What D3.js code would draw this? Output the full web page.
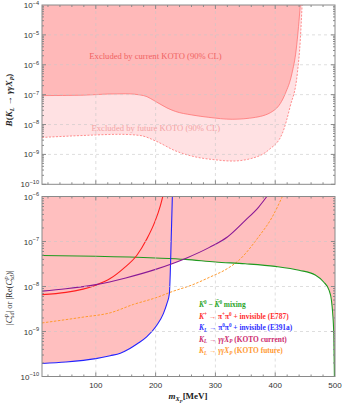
<!DOCTYPE html>
<html>
  <head>
    <meta charset="UTF-8">
    <title>KOTO bounds</title>
    <style>
    body { margin: 0; background: #fff; }
    svg { display: block; }
    .tick text { font: 8px "Liberation Sans", sans-serif; fill: #333; }
    .frame { fill: none; stroke: #8a8a8a; stroke-width: 1px; }
    .grid { stroke: #c8c8c8; stroke-dasharray: 3,3; stroke-width: 0.6px; }
    </style>
  </head>
  <body>
    <svg width="349" height="403"></svg>
    <script src="https://d3js.org/d3.v7.min.js"></script>
    <script>
// ---- data ----
// top panel: branching ratio limits, B(K_L -> gamma gamma X_P)
var kotoNowMass = [10, 79, 120, 150, 180, 202, 219, 233, 260, 289, 328, 367, 400, 417, 428, 435, 439, 442];
var kotoNowBR   = [9.3e-8, 9.6e-8, 1.05e-7, 1.07e-7, 9.3e-8, 5.6e-8, 3.6e-8, 2.75e-8, 2.1e-8, 1.74e-8, 1.5e-8, 1.74e-8, 3.2e-8, 1.1e-7, 5.1e-7, 3.1e-6, 1.9e-5, 1e-4];
var kotoFutMass = [10, 79, 141, 174, 202, 233, 266, 300, 328, 361, 389, 412, 425, 437, 442, 445];
var kotoFutBR   = [3.7e-9, 4.3e-9, 4.7e-9, 4.3e-9, 2.7e-9, 1.32e-9, 8.3e-10, 6.6e-10, 6.0e-10, 7.4e-10, 1.41e-9, 5.1e-9, 4.0e-8, 5.1e-7, 6.8e-6, 1e-4];

// bottom panel: coupling limits
var mixMass = [10, 100, 200, 250, 300, 350, 400, 440, 467, 481, 490, 494, 496, 498, 499, 500];
var mixC    = [4.9e-8, 4.7e-8, 4.3e-8, 4.0e-8, 3.5e-8, 3.2e-8, 2.8e-8, 2.3e-8, 1.8e-8, 1.26e-8, 8.3e-9, 5.0e-9, 2.7e-9, 8.3e-10, 1.0e-10, 1e-11];
var e787Mass = [10, 50, 100, 124, 146, 169, 185, 199, 208, 212];
var e787C    = [6.6e-9, 7.4e-9, 1.07e-8, 1.5e-8, 2.5e-8, 5.0e-8, 1.12e-7, 2.8e-7, 6.3e-7, 1e-6];
var e391Mass = [10, 50, 100, 124, 141, 157, 170, 185, 202, 213, 219, 223, 224.5, 226, 228];
var e391C    = [1.95e-10, 2.1e-10, 2.5e-10, 2.9e-10, 3.3e-10, 4.2e-10, 5.4e-10, 7.6e-10, 1.38e-9, 2.5e-9, 4.2e-9, 6.9e-9, 1.95e-8, 1.05e-7, 1e-6];
var kotoCurMass = [10, 50, 100, 150, 200, 250, 290, 320, 350, 372, 386];
var kotoCurC    = [7.9e-9, 8.9e-9, 1.1e-8, 1.55e-8, 2.4e-8, 4.2e-8, 7.4e-8, 1.26e-7, 2.95e-7, 5.75e-7, 1e-6];
var kotoFutCMass = [10, 80, 124, 163, 200, 230, 260, 290, 320, 339, 372, 395, 412];
var kotoFutC     = [1.55e-9, 2.1e-9, 2.6e-9, 4.0e-9, 5.6e-9, 7.9e-9, 1.07e-8, 1.6e-8, 2.5e-8, 3.8e-8, 1.26e-7, 3.5e-7, 1e-6];

var massTicks = [100, 200, 300, 400, 500];
var topDecades = [1e-10, 1e-9, 1e-8, 1e-7, 1e-6, 1e-5, 1e-4];
var botDecades = [1e-10, 1e-9, 1e-8, 1e-7, 1e-6];

var svg = d3.select("svg");
var left = 42, right = 335;
var x = d3.scaleLinear().domain([10, 500]).range([left, right]);
var yTop = d3.scaleLog().domain([1e-10, 1e-4]).range([184.3, 5]);
var yBot = d3.scaleLog().domain([1e-10, 1e-6]).range([376.5, 196.5]);

function zip(ms, vs) { return ms.map((m, i) => ({m: m, v: vs[i]})); }

// rich text: parts = [text, flags] with flags among i, b, sup, sub, subsub
function rich(g, px, py, parts, fs, attrs) {
  var t = g.append("text").attr("x", px).attr("y", py).attr("font-size", fs);
  Object.keys(attrs || {}).forEach(k => t.attr(k, attrs[k]));
  var shift = 0;
  parts.forEach(p => {
    var s = p[0], f = p[1] || "", dx = p[2] || 0;
    var target = 0, size = fs;
    if (f.includes("subsub")) { target = 0.45 * fs; size = fs * 0.55; }
    else if (f.includes("sup")) { target = -0.38 * fs; size = fs * 0.7; }
    else if (f.includes("sub")) { target = 0.25 * fs; size = fs * 0.7; }
    var ts = t.append("tspan").attr("dy", target - shift).attr("font-size", size).text(s);
    if (dx) ts.attr("dx", dx);
    if (f.includes("i")) ts.attr("font-style", "italic");
    shift = target;
  });
  return t;
}

function panel(y, y0, y1, decades, showX, id) {
  var g = svg.append("g");
  svg.append("clipPath").attr("id", id).append("rect")
      .attr("x", left).attr("y", y1).attr("width", right - left).attr("height", y0 - y1);
  var plot = g.append("g").attr("clip-path", "url(#" + id + ")");
  var deco = g.append("g");

  // grid
  deco.selectAll(".gx").data(massTicks.slice(0, -1)).enter().append("line")
      .attr("class", "grid").attr("x1", d => x(d)).attr("x2", d => x(d)).attr("y1", y1).attr("y2", y0);
  deco.selectAll(".gy").data(decades.slice(1, -1)).enter().append("line")
      .attr("class", "grid").attr("x1", left).attr("x2", right).attr("y1", d => y(d)).attr("y2", d => y(d));

  // frame + inward ticks
  deco.append("rect").attr("class", "frame").attr("x", left).attr("y", y1)
      .attr("width", right - left).attr("height", y0 - y1);
  var minorX = d3.range(20, 500, 20);
  minorX.forEach(m => {
    var len = m % 100 === 0 ? 4 : 2;
    deco.append("line").attr("class", "frame").attr("x1", x(m)).attr("x2", x(m)).attr("y1", y0).attr("y2", y0 - len);
    deco.append("line").attr("class", "frame").attr("x1", x(m)).attr("x2", x(m)).attr("y1", y1).attr("y2", y1 + len);
  });
  decades.slice(0, -1).forEach(d => {
    for (var k = 1; k < 10; k++) {
      var v = d * k, len = k === 1 ? 4 : 2;
      deco.append("line").attr("class", "frame").attr("x1", left).attr("x2", left + len).attr("y1", y(v)).attr("y2", y(v));
      deco.append("line").attr("class", "frame").attr("x1", right).attr("x2", right - len).attr("y1", y(v)).attr("y2", y(v));
    }
  });

  // tick labels
  decades.forEach(d => {
    var e = Math.round(Math.log10(d));
    var t = rich(deco, left - 3, y(d) + 3, [["10"], ["\u2212" + (-e), "sup"]], 8,
      {"text-anchor": "end", "font-family": "Liberation Sans, sans-serif", "fill": "#333"});
  });
  if (showX) {
    massTicks.forEach(m => {
      deco.append("text").attr("x", x(m)).attr("y", y0 + 11).attr("text-anchor", "middle")
          .attr("font-family", "Liberation Sans, sans-serif").attr("font-size", 8).attr("fill", "#333").text(m);
    });
  }
  return plot;
}

// ---------------- top panel ----------------
var topPlot = panel(yTop, 184.3, 5, topDecades, false, "clipTop");
var curve = d3.curveMonotoneX;
var areaTop = d3.area().curve(curve).x(d => x(d.m)).y0(0).y1(d => yTop(d.v));
var lineTop = d3.line().curve(curve).x(d => x(d.m)).y(d => yTop(d.v));

topPlot.insert("path", ":first-child").attr("d", areaTop(zip(kotoFutMass, kotoFutBR))).attr("fill", "#ffe1e3");
topPlot.insert("path", ":nth-child(2)").attr("d", areaTop(zip(kotoNowMass, kotoNowBR))).attr("fill", "#ffb9b9");
topPlot.append("path").attr("d", lineTop(zip(kotoFutMass, kotoFutBR))).attr("fill", "none")
    .attr("stroke", "#ff7373").attr("stroke-width", 0.8).attr("stroke-dasharray", "2,1.5");
topPlot.append("path").attr("d", lineTop(zip(kotoNowMass, kotoNowBR))).attr("fill", "none")
    .attr("stroke", "#ff7373").attr("stroke-width", 0.8);

svg.append("text").attr("x", 155.5).attr("y", 59).attr("text-anchor", "middle")
    .attr("font-family", "Liberation Serif, serif").attr("font-size", 8.6).attr("fill", "#f06262")
    .text("Excluded by current KOTO (90% CL)");
svg.append("text").attr("x", 155.8).attr("y", 130.5).attr("text-anchor", "middle")
    .attr("font-family", "Liberation Serif, serif").attr("font-size", 8.6).attr("fill", "#f3a3a3")
    .text("Excluded by future KOTO (90% CL)");

// ---------------- bottom panel ----------------
var botPlot = panel(yBot, 376.5, 196.5, botDecades, true, "clipBot");
var areaBot = d3.area().curve(curve).x(d => x(d.m)).y0(0).y1(d => yBot(d.v));
var lineBot = d3.line().curve(curve).x(d => x(d.m)).y(d => yBot(d.v));

var bounds = [
  {m: mixMass, v: mixC, color: "#1f9a1f"},
  {m: e787Mass, v: e787C, color: "#ff2020"},
  {m: e391Mass, v: e391C, color: "#2323ff"},
  {m: kotoCurMass, v: kotoCurC, color: "#8a1a96"}
];
// excluded region = union of regions above each current bound
var fills = botPlot.insert("g", ":first-child");
bounds.forEach(b => {
  fills.append("path").attr("d", areaBot(zip(b.m, b.v))).attr("fill", "#ffbfbf");
});
botPlot.append("path").attr("d", lineBot(zip(kotoFutCMass, kotoFutC))).attr("fill", "none")
    .attr("stroke", "#ff9a2e").attr("stroke-width", 1).attr("stroke-dasharray", "2.5,1.5");
bounds.forEach(b => {
  botPlot.append("path").attr("d", lineBot(zip(b.m, b.v))).attr("fill", "none")
      .attr("stroke", b.color).attr("stroke-width", 1.1);
});

// legend
var leg = svg.append("g").attr("font-family", "Liberation Serif, serif").attr("font-weight", "bold");
var legFs = 7.4, legX = 199;
rich(leg, legX, 306.5, [["K", "i"], ["0", "sup"], [" \u2212 "], ["K\u0304", "i"], ["0", "sup"], [" mixing"]], legFs, {fill: "#2aa52a"});
rich(leg, legX, 318.5, [["K", "i"], ["+", "sup"], [" \u2192 \u03c0"], ["+", "sup"], ["\u03c0"], ["0", "sup"], [" + invisible (E787)"]], legFs, {fill: "#ff3030"});
rich(leg, legX, 330, [["K", "i"], ["L", "sub i"], [" \u2192 \u03c0"], ["0", "sup"], ["\u03c0"], ["0", "sup"], [" + invisible (E391a)"]], legFs, {fill: "#2f2fff"});
rich(leg, legX, 341.5, [["K", "i"], ["L", "sub i"], [" \u2192 \u03b3\u03b3", "i"], ["X", "i"], ["P", "sub i"], [" (KOTO current)"]], legFs, {fill: "#cc2a6e"});
rich(leg, legX, 353, [["K", "i"], ["L", "sub i"], [" \u2192 \u03b3\u03b3", "i"], ["X", "i"], ["P", "sub i"], [" (KOTO future)"]], legFs, {fill: "#ff9a33"});

// axis titles
var topLab = svg.append("g").attr("transform", "translate(12,100) rotate(-90)");
rich(topLab, 0, 0, [["B", "i"], ["("], ["K", "i"], ["L", "sub i"], [" \u2192 \u03b3\u03b3X", "i"], ["P", "sub i"], [")"]], 9,
  {"text-anchor": "middle", "font-family": "Liberation Serif, serif", "font-weight": "bold", fill: "#222"});
var botLab = svg.append("g").attr("transform", "translate(12,298) rotate(-90)");
rich(botLab, 0, 0, [["|C", "i"], ["P", "sup i"], ["sd", "sub i", -4], ["| or |Re("], ["C", "i"], ["P", "sup i"], ["sd", "sub i", -4], [")|"]], 8.5,
  {"text-anchor": "middle", "font-family": "Liberation Serif, serif", fill: "#222"});
rich(svg, 188, 399, [["m", "i"], ["X", "sub i"], ["P", "subsub i"], ["[MeV]"]], 9,
  {"text-anchor": "middle", "font-family": "Liberation Serif, serif", "font-weight": "bold", fill: "#222"});
    </script>
  </body>
</html>
